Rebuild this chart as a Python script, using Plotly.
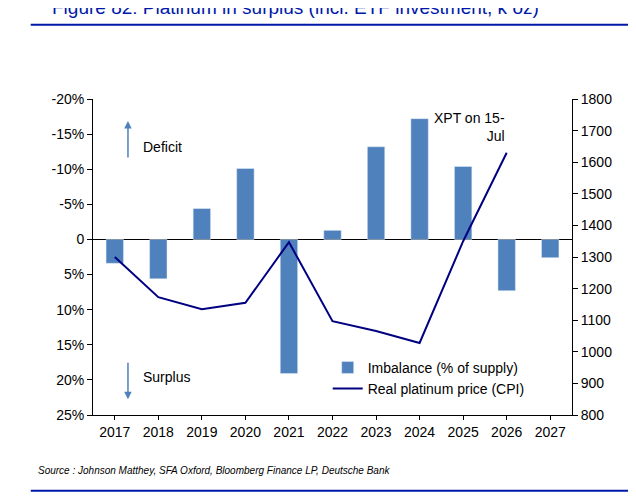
import plotly.graph_objects as go

years = ["2017", "2018", "2019", "2020", "2021", "2022", "2023", "2024", "2025", "2026", "2027"]
imbalance = [3.4, 5.6, -4.4, -10.1, 19.1, -1.3, -13.2, -17.2, -10.4, 7.3, 2.6]
price_years = ["2017", "2018", "2019", "2020", "2021", "2022", "2023", "2024", "2025", "2026"]
real_price = [1300, 1173, 1135, 1155, 1347, 1097, 1066, 1028, 1350, 1630]

left_vals = [-20, -15, -10, -5, 0, 5, 10, 15, 20, 25]
left_text = ["-20%", "-15%", "-10%", "-5%", "0", "5%", "10%", "15%", "20%", "25%"]

blue = "#0018A8"
fig = go.Figure()
fig.add_trace(go.Bar(x=years, y=imbalance, name="Imbalance (% of supply)",
                     marker_color="#4F81BD", width=0.4))
fig.add_trace(go.Scatter(x=price_years, y=real_price, name="Real platinum price (CPI)",
                         mode="lines", line=dict(color="#000080", width=2), yaxis="y2"))

fig.update_layout(
    width=636, height=496, plot_bgcolor="white", paper_bgcolor="white",
    font=dict(family="Arial, Liberation Sans", size=14, color="black"),
    margin=dict(l=85, r=72, t=91, b=89),
    bargap=0.5,
    xaxis=dict(showline=True, linecolor="black", ticks="outside", tickcolor="black",
               ticklen=4, range=[-0.5, 10.5]),
    yaxis=dict(range=[25, -20], tickvals=left_vals, ticktext=left_text, showgrid=False,
               zeroline=True, zerolinecolor="black", zerolinewidth=1,
               showline=True, linecolor="black", ticks="outside", tickcolor="black"),
    yaxis2=dict(range=[800, 1800], dtick=100, overlaying="y", side="right", showgrid=False,
                showline=True, linecolor="black", ticks="outside", tickcolor="black"),
    legend=dict(x=0.49, y=0.2, xanchor="left", yanchor="top", bgcolor="rgba(0,0,0,0)",
                font=dict(size=14)),
    showlegend=True,
)

fig.add_annotation(text="Figure 82: Platinum in surplus (incl. ETF investment, k oz)",
                   xref="paper", yref="paper", x=-0.09, y=1.33, xanchor="left",
                   showarrow=False, font=dict(size=19, color=blue))
fig.add_shape(type="line", xref="paper", yref="paper", x0=-0.13, x1=1.18, y0=1.235, y1=1.235,
              line=dict(color=blue, width=2))
fig.add_annotation(text="<i>Source : Johnson Matthey, SFA Oxford, Bloomberg Finance LP, Deutsche Bank</i>",
                   xref="paper", yref="paper", x=-0.12, y=-0.2, xanchor="left",
                   showarrow=False, font=dict(size=10))
fig.add_shape(type="line", xref="paper", yref="paper", x0=-0.13, x1=1.18, y0=-0.24, y1=-0.24,
              line=dict(color=blue, width=2))

fig.add_annotation(text="Deficit", xref="paper", yref="paper", x=0.1, y=0.88,
                   xanchor="left", showarrow=False)
fig.add_annotation(xref="x domain", yref="y domain", x=0.073, y=0.93, ax=0.073, ay=0.81,
                   axref="x domain", ayref="y domain", text="", showarrow=True,
                   arrowhead=2, arrowcolor="#4F81BD", arrowwidth=1.5)
fig.add_annotation(text="Surplus", xref="paper", yref="paper", x=0.1, y=0.09,
                   xanchor="left", showarrow=False)
fig.add_annotation(xref="x domain", yref="y domain", x=0.073, y=0.05, ax=0.073, ay=0.17,
                   axref="x domain", ayref="y domain", text="", showarrow=True,
                   arrowhead=2, arrowcolor="#4F81BD", arrowwidth=1.5)
fig.add_annotation(text="XPT on 15-<br>Jul", xref="paper", yref="paper", x=0.865, y=0.97,
                   showarrow=False, align="right")

fig.write_html("out.html")
